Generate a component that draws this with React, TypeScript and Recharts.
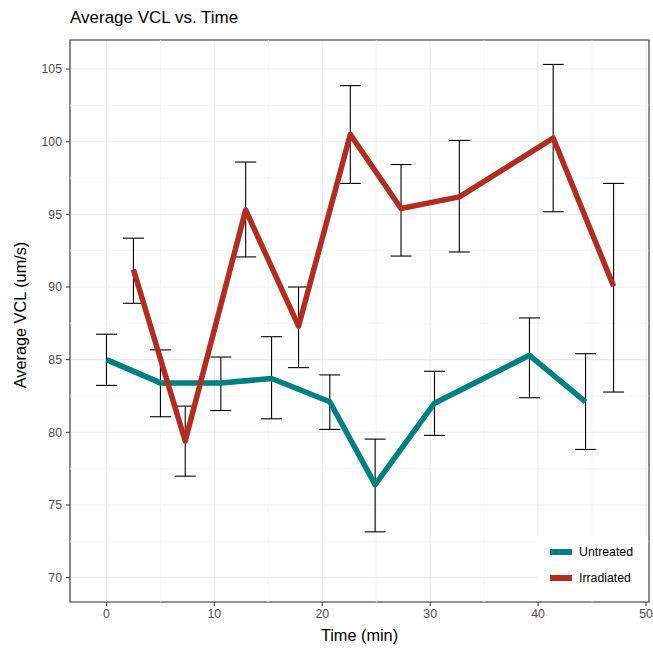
import React from "react";
import {
  ComposedChart,
  Line,
  ErrorBar,
  XAxis,
  YAxis,
  CartesianGrid,
  ReferenceLine,
  ReferenceArea,
} from "recharts";

// Untreated group
const untreatedTime = [0, 5, 10.6, 15.3, 20.7, 24.9, 30.4, 39.2, 44.4];
const untreatedVcl = [85.0, 83.4, 83.4, 83.7, 82.1, 76.4, 82.0, 85.3, 82.1];
const untreatedUpper = [86.75, 85.67, 85.18, 86.58, 83.95, 79.53, 84.2, 87.87, 85.41];
const untreatedLower = [83.23, 81.07, 81.5, 80.93, 80.2, 73.15, 79.79, 82.38, 78.82];

// Irradiated group
const irradiatedTime = [2.5, 7.3, 12.9, 17.8, 22.6, 27.3, 32.7, 41.4, 47.0];
const irradiatedVcl = [91.2, 79.4, 95.3, 87.3, 100.5, 95.4, 96.2, 100.25, 90.05];
const irradiatedUpper = [93.36, 81.8, 98.6, 90.0, 103.86, 98.43, 100.09, 105.32, 97.13];
const irradiatedLower = [88.88, 76.98, 92.07, 84.45, 97.13, 92.13, 92.41, 95.18, 82.77];

const xTicks = [0, 10, 20, 30, 40, 50];
const yTicks = [70, 75, 80, 85, 90, 95, 100, 105];
const xMinor = [5, 15, 25, 35, 45];
const yMinor = [72.5, 77.5, 82.5, 87.5, 92.5, 97.5, 102.5];

const X_DOMAIN: [number, number] = [-3.38, 50.28];
const Y_DOMAIN: [number, number] = [68.32, 107.0];

const TEAL = "#008080";
const RED = "#B22D20";

function buildRows(t: number[], v: number[], up: number[], lo: number[]) {
  return t.map((time, i) => ({
    time,
    vcl: v[i],
    err: [v[i] - lo[i], up[i] - v[i]],
  }));
}

const untreatedRows = buildRows(untreatedTime, untreatedVcl, untreatedUpper, untreatedLower);
const irradiatedRows = buildRows(irradiatedTime, irradiatedVcl, irradiatedUpper, irradiatedLower);

const font = "'Liberation Sans', Arial, sans-serif";
const tickStyle = { fontSize: 12.3, fill: "#4D4D4D", fontFamily: font };

export default function App() {
  return (
    <div style={{ position: "relative", width: 653, height: 648, fontFamily: font, background: "#fff" }}>
      <style>{`body{margin:0}`}</style>
      <div style={{ position: "absolute", left: 70, top: 8, fontSize: 17, color: "#000" }}>
        Average VCL vs. Time
      </div>
      <ComposedChart
        width={653}
        height={648}
        margin={{ top: 40, right: 4, bottom: 0, left: 0 }}
      >
        <CartesianGrid stroke="#EBEBEB" strokeWidth={1.1} />
        {xMinor.map((x) => (
          <ReferenceLine key={`vx${x}`} x={x} stroke="#F3F3F3" strokeWidth={0.8} />
        ))}
        {yMinor.map((y) => (
          <ReferenceLine key={`hy${y}`} y={y} stroke="#F3F3F3" strokeWidth={0.8} />
        ))}
        <XAxis
          type="number"
          dataKey="time"
          domain={X_DOMAIN}
          ticks={xTicks}
          allowDataOverflow
          height={46}
          tick={tickStyle}
          tickSize={4}
          tickMargin={3}
          tickLine={{ stroke: "#333" }}
          axisLine={false}
        />
        <YAxis
          type="number"
          domain={Y_DOMAIN}
          ticks={yTicks}
          allowDataOverflow
          width={70}
          tick={tickStyle}
          tickSize={4}
          tickMargin={4}
          tickLine={{ stroke: "#333" }}
          axisLine={false}
        />
        <Line
          data={untreatedRows}
          dataKey="vcl"
          stroke={TEAL}
          strokeWidth={5.5}
          dot={false}
          strokeLinejoin="round"
          isAnimationActive={false}
        >
          <ErrorBar dataKey="err" direction="y" width={10.5} stroke="#000" strokeWidth={1.1} />
        </Line>
        <Line
          data={irradiatedRows}
          dataKey="vcl"
          stroke={RED}
          strokeWidth={5.5}
          dot={false}
          strokeLinejoin="round"
          isAnimationActive={false}
        >
          <ErrorBar dataKey="err" direction="y" width={10.5} stroke="#000" strokeWidth={1.1} />
        </Line>
        <ReferenceArea
          x1={X_DOMAIN[0]}
          x2={X_DOMAIN[1]}
          y1={Y_DOMAIN[0]}
          y2={Y_DOMAIN[1]}
          fill="none"
          stroke="#333"
          strokeWidth={1.1}
          fillOpacity={0}
        />
      </ComposedChart>
      <div
        style={{
          position: "absolute",
          left: 537,
          top: 536,
          width: 111,
          height: 64,
          background: "#fff",
        }}
      >
        {[
          { name: "Untreated", color: TEAL },
          { name: "Irradiated", color: RED },
        ].map((item, i) => (
          <div
            key={item.name}
            style={{ position: "absolute", left: 13, top: 9 + i * 26, display: "flex", alignItems: "center", fontSize: 12.3, color: "#000" }}
          >
            <span style={{ display: "inline-block", width: 22, height: 6, background: item.color, marginRight: 7 }} />
            {item.name}
          </div>
        ))}
      </div>
      <div style={{ position: "absolute", left: 70, width: 579, top: 626, textAlign: "center", fontSize: 16.3, color: "#000" }}>
        Time (min)
      </div>
      <div
        style={{
          position: "absolute",
          left: 20,
          top: 315,
          transform: "translate(-50%, -50%) rotate(-90deg)",
          whiteSpace: "nowrap",
          fontSize: 16.3,
          color: "#000",
        }}
      >
        Average VCL (um/s)
      </div>
    </div>
  );
}
